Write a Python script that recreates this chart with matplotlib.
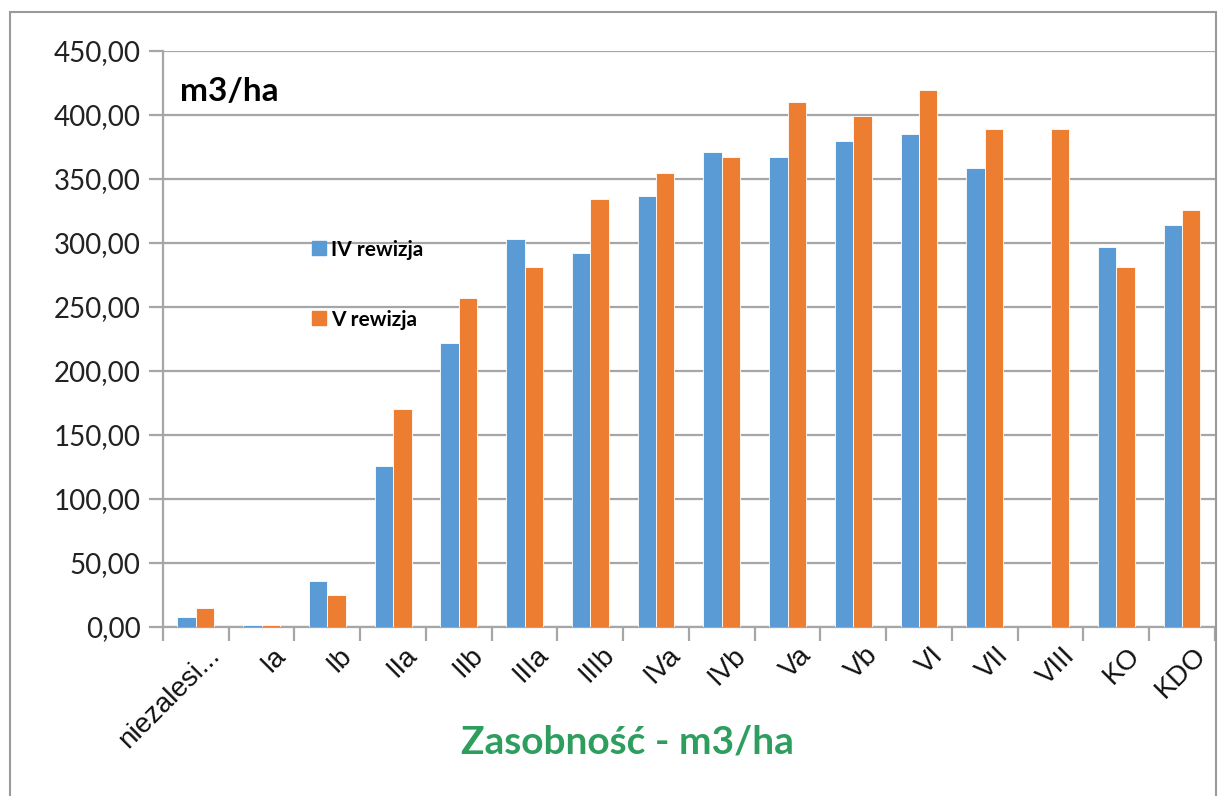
import matplotlib.pyplot as plt
from matplotlib.lines import Line2D
from matplotlib.patches import Rectangle
from matplotlib.ticker import FuncFormatter
import numpy as np

categories = ["niezalesi...", "Ia", "Ib", "IIa", "IIb", "IIIa", "IIIb", "IVa",
              "IVb", "Va", "Vb", "VI", "VII", "VIII", "KO", "KDO"]
rew_iv = [8, 1.5, 36, 126, 222, 303, 292, 337, 371, 367, 380, 385, 359, 0, 296.6, 314.3]
rew_v = [15, 1.5, 25, 170, 257, 281, 334, 355, 367, 410, 399.5, 419.5, 389.3, 389.3, 281.2, 325.5]

blue = "#5B9BD5"
orange = "#ED7D31"
grid_c = "#A6A6A6"

fig = plt.figure(figsize=(12.18, 7.96), dpi=100)
ax = fig.add_axes([0.1338, 0.2123, 0.8637, 0.7236])

x = np.arange(len(categories))
w = 0.28
ax.bar(x - w / 2, rew_iv, w, color=blue, edgecolor="white", linewidth=0.6, zorder=3)
ax.bar(x + w / 2, rew_v, w, color=orange, edgecolor="white", linewidth=0.6, zorder=3)

ax.set_xlim(-0.5, len(categories) - 0.5)
ax.set_ylim(0, 450)
ax.set_yticks(np.arange(0, 451, 50))
ax.yaxis.set_major_formatter(FuncFormatter(lambda v, p: f"{v:.2f}".replace(".", ",")))
ax.grid(axis="y", color=grid_c, linewidth=1.6, zorder=0)
for s in ["top", "right"]:
    ax.spines[s].set_visible(False)
for s in ["left", "bottom"]:
    ax.spines[s].set_color(grid_c)
    ax.spines[s].set_linewidth(1.6)
ax.tick_params(axis="y", length=10, color=grid_c, width=1.6, labelsize=20, pad=6,
               labelcolor="#222222")
for lab in ax.get_yticklabels():
    lab.set_family("Lato")

# category boundary ticks on x
ax.set_xticks(np.arange(-0.5, len(categories)), minor=False)
ax.set_xticklabels([])
ax.tick_params(axis="x", length=10, color=grid_c, width=1.6)
for i, c in enumerate(categories):
    ax.annotate(c, xy=(i, 0), xycoords=("data", "axes fraction"),
                xytext=(8, -11), textcoords="offset points",
                rotation=45, ha="right", va="top", rotation_mode="anchor",
                fontsize=20, family="Liberation Sans", color="#111111")

ax.text(0.016, 0.955, "m3/ha", transform=ax.transAxes, fontsize=24, fontweight="bold",
        family="Lato", va="top", ha="left")

handles = [Line2D([], [], marker="s", color=c, linestyle="none", markersize=10)
           for c in (blue, orange)]
leg = ax.legend(handles, ["IV rewizja", "V rewizja"], loc="upper left",
                bbox_to_anchor=(0.125, 0.705), frameon=False, handlelength=0.6,
                handletextpad=0.25, labelspacing=2.4,
                prop={"family": "Lato", "weight": "bold", "size": 15})

fig.text(0.515, 0.068, "Zasobność - m3/ha", ha="center", va="center", fontsize=28,
         fontweight="bold", family="Lato", color="#2E9E5E")

fig.patches.append(Rectangle((0.008, -0.01), 0.99, 0.995, transform=fig.transFigure,
                             fill=False, edgecolor="#9A9A9A", linewidth=1.5))

fig.savefig("out.png", dpi=100)
